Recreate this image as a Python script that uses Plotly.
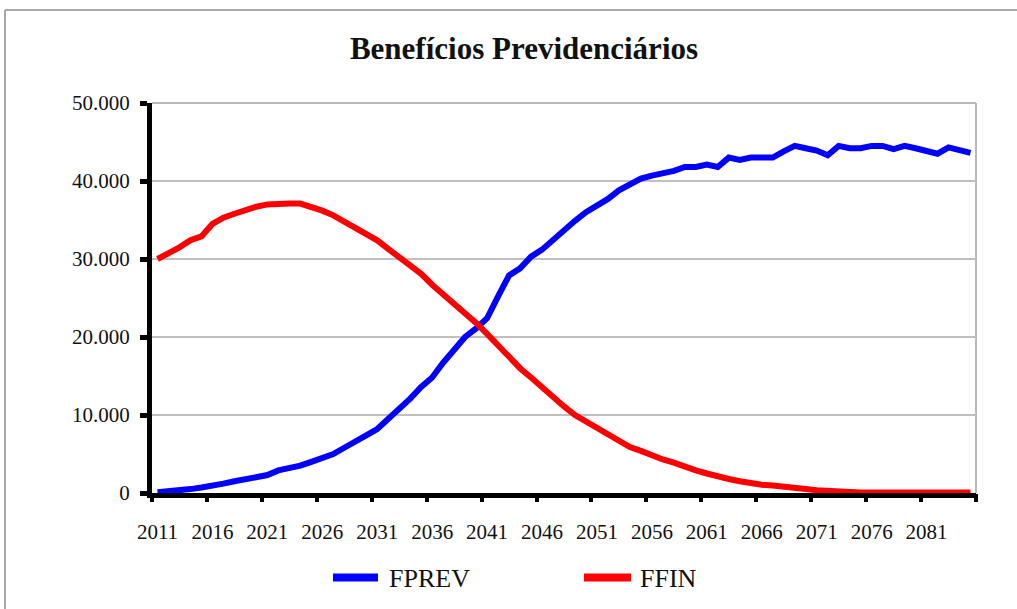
import plotly.graph_objects as go

# Projection years (one value per year)
years = list(range(2011, 2086))

# Number of benefits per fund
fprev = [100, 200, 400, 500, 700, 900, 1200, 1500, 1800, 2100,
         2300, 2900, 3200, 3500, 4000, 4400, 5000, 5800, 6700, 7400,
         8200, 9500, 10700, 12100, 13600, 14800, 16700, 18500, 20000, 21100,
         22400, 25200, 27900, 28800, 30300, 31200, 32500, 33700, 34900, 36000,
         36800, 37700, 38800, 39600, 40300, 40700, 41000, 41300, 41800, 41800,
         42100, 41800, 43000, 42700, 43000, 43000, 43000, 43800, 44500, 44200,
         43900, 43300, 44500, 44200, 44200, 44500, 44500, 44100, 44500, 44200,
         43800, 43500, 44300, 44000, 43600]

ffin = [30000, 30700, 31500, 32400, 32900, 34500, 35300, 35800, 36300, 36700,
        37000, 37100, 37100, 37100, 36700, 36200, 35600, 34800, 34200, 33400,
        32400, 31300, 30300, 29200, 28100, 26700, 25500, 24200, 23000, 21800,
        20400, 18900, 17300, 16000, 14800, 13500, 12200, 11100, 10000, 9200,
        8300, 7500, 6600, 5900, 5400, 4800, 4300, 3900, 3300, 2900,
        2500, 2100, 1800, 1500, 1200, 1050, 950, 750, 650, 500,
        350, 250, 120, 50, 50, 50, 50, 50, 50, 50,
        50, 50, 50, 50, 50]

label_years = [2011, 2016, 2021, 2026, 2031, 2036, 2041, 2046, 2051, 2056,
               2061, 2066, 2071, 2076, 2081]
y_ticks = [0, 10000, 20000, 30000, 40000, 50000]

series_names = ["FPREV", "FFIN"]
series_colors = ["#0000ff", "#ff0000"]

W, H = 1017, 609
L, R, T, B = 152, 976, 103, 493.5
FONT = "'Liberation Serif', 'Times New Roman', serif"

x_lo, x_hi = years[0] - 0.5, years[-1] + 0.5
# category boundaries carry the tick marks
boundaries = [y - 0.5 for y in label_years] + [x_hi]


def px(xp):
    return (xp - L) / (R - L)


def py(yp):
    return (B - yp) / (B - T)


fig = go.Figure()
fig.add_trace(go.Scatter(x=years, y=fprev, name=series_names[0], mode="lines",
                         line=dict(color=series_colors[0], width=6),
                         xaxis="x", yaxis="y", showlegend=False))
fig.add_trace(go.Scatter(x=years, y=ffin, name=series_names[1], mode="lines",
                         line=dict(color=series_colors[1], width=6),
                         xaxis="x2", yaxis="y", showlegend=False))

shapes = [
    # plot area frame (top and right)
    dict(type="line", xref="paper", yref="paper", x0=0, x1=1, y0=1, y1=1,
         line=dict(color="#b8b8b8", width=2), layer="below"),
    dict(type="line", xref="paper", yref="paper", x0=1, x1=1, y0=0, y1=1,
         line=dict(color="#b8b8b8", width=2), layer="below"),
    # chart area frame
    dict(type="line", xref="paper", yref="paper", x0=px(5), x1=px(W + 5),
         y0=py(10), y1=py(10), line=dict(color="#a8a8a8", width=2)),
    dict(type="line", xref="paper", yref="paper", x0=px(5), x1=px(5),
         y0=py(10), y1=py(H + 5), line=dict(color="#a8a8a8", width=2)),
]

annotations = []
legend_items = [(333, 378, 387), (584, 631, 638)]
leg_y = 578
for (x0, x1, xt), name, color in zip(legend_items, series_names, series_colors):
    shapes.append(dict(type="line", xref="paper", yref="paper",
                       x0=px(x0), x1=px(x1), y0=py(leg_y), y1=py(leg_y),
                       line=dict(color=color, width=8)))
    annotations.append(dict(xref="paper", yref="paper", x=px(xt), y=py(leg_y + 1),
                            text=name, showarrow=False, xanchor="left",
                            yanchor="middle",
                            font=dict(family=FONT, size=26, color="#111111")))

fig.update_layout(
    width=W, height=H,
    margin=dict(l=L, r=W - R, t=T, b=H - B, pad=0),
    paper_bgcolor="white", plot_bgcolor="white",
    separators=",.",
    title=dict(text="<b>Benefícios Previdenciários</b>",
               font=dict(family=FONT, size=31, color="#111111"),
               x=524 / W, xref="container", xanchor="center",
               y=1 - 48 / H, yref="container", yanchor="middle"),
    xaxis=dict(range=[x_lo, x_hi], tickmode="array", tickvals=label_years,
               ticktext=[str(v) for v in label_years], ticks="",
               showgrid=False, zeroline=False, showline=True,
               linecolor="black", linewidth=5,
               tickfont=dict(family=FONT, size=21, color="#111111"),
               ticklabelstandoff=16),
    xaxis2=dict(range=[x_lo, x_hi], overlaying="x", anchor="y", side="bottom",
                matches="x", tickmode="array", tickvals=boundaries,
                ticks="outside", ticklen=8, tickwidth=4, tickcolor="black",
                showticklabels=False, showgrid=False, zeroline=False,
                showline=False),
    yaxis=dict(range=[0, 50000], tickmode="array", tickvals=y_ticks,
               tickformat=",.0f", ticks="outside", ticklen=7, tickwidth=5,
               tickcolor="black", showline=True, linecolor="black",
               linewidth=5, showgrid=True, gridcolor="#c0c0c0", gridwidth=2,
               zeroline=False,
               tickfont=dict(family=FONT, size=21, color="#111111"),
               ticklabelstandoff=6),
    shapes=shapes,
    annotations=annotations,
)

fig.write_html("out.html")
